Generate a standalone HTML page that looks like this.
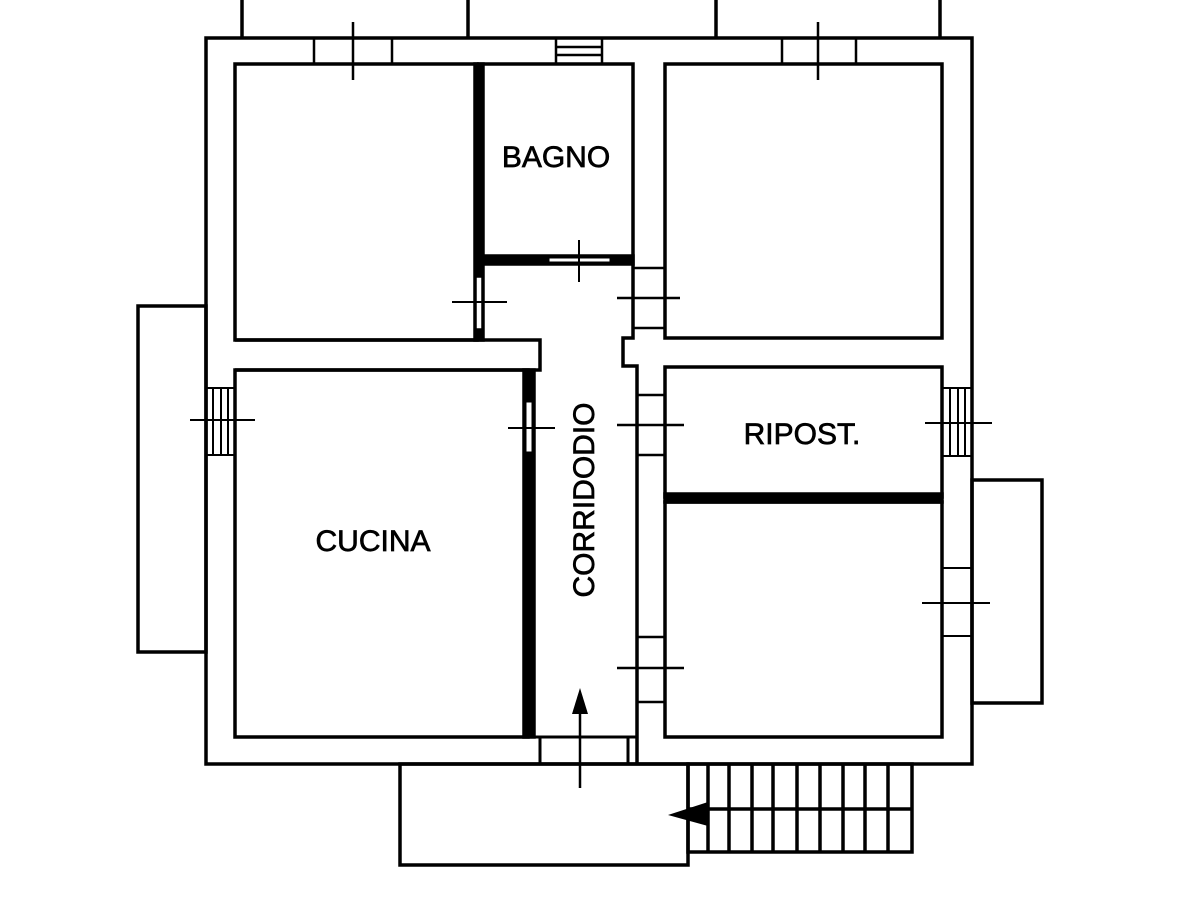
<!DOCTYPE html>
<html><head><style>body{margin:0;background:#fff}svg{display:block}text{font-family:"Liberation Sans",sans-serif;fill:#000}</style></head><body>
<svg width="1200" height="900" viewBox="0 0 1200 900" fill="none" stroke="#000" stroke-width="3.5">
<path d="M242 0V38M468 0V38M716 0V38M940 0V38"/>
<rect x="206" y="38" width="766" height="726"/>
<rect x="235" y="64" width="242" height="276"/>
<path d="M477 64H633V262"/>
<rect x="475" y="64" width="8" height="276" fill="#000"/>
<rect x="480" y="256" width="153" height="8" fill="#000"/>
<rect x="549" y="258" width="61" height="4" fill="#fff" stroke-width="1"/>
<rect x="476" y="277" width="6" height="52" fill="#fff" stroke-width="1.5"/>
<path d="M452 302H507M579 240V282" stroke-width="2"/>
<rect x="665" y="64" width="277" height="274"/>
<path d="M633 262V338H623V366H637V764"/>
<path d="M633 268H665M633 328H665M617 298H680" stroke-width="2.5"/>
<rect x="665" y="367" width="277" height="130"/>
<rect x="665" y="494" width="277" height="8" fill="#000"/>
<rect x="665" y="502" width="277" height="235"/>
<path d="M637 395H665M637 455H665M617 425H684M637 637H665M637 702H665M617 668H684" stroke-width="2.5"/>
<path d="M942 388H972M942 456H972M950 388V456M958 388V456M965 388V456M925 423H992" stroke-width="2"/>
<path d="M942 568H972M942 636H972M922 603H990" stroke-width="2"/>
<rect x="972" y="480" width="70" height="223"/>
<rect x="138" y="306" width="68" height="346"/>
<path d="M206 388H235M206 455H235M213 388V455M221 388V455M228 388V455M190 420H255" stroke-width="2"/>
<path d="M235 340H540V370H235"/>
<rect x="235" y="370" width="293" height="367"/>
<rect x="524" y="370" width="10" height="367" fill="#000"/>
<rect x="526" y="402" width="6" height="50" fill="#fff" stroke-width="1"/>
<path d="M508 428H555" stroke-width="2"/>
<path d="M534 737H637M540 737V764M628 737V764" stroke-width="3"/>
<path d="M314 38V64M392 38V64M353 22V80M782 38V64M856 38V64M818 22V80" stroke-width="2.5"/>
<rect x="556" y="38" width="46" height="26" stroke-width="2.5"/>
<path d="M556 47H602M556 55H602" stroke-width="2.5"/>
<path d="M580 788V712" stroke-width="2.5"/>
<path d="M572 714L580 688L588 714Z" fill="#000" stroke="none"/>
<rect x="400" y="764" width="288" height="101"/>
<rect x="688" y="764" width="224" height="88"/>
<path d="M688 809H912M708 764V852M729 764V852M752 764V852M773 764V852M797 764V852M820 764V852M843 764V852M865 764V852M888 764V852"/>
<path d="M668 815L708 802V826Z" fill="#000" stroke="none"/>
<g stroke="#000" stroke-width="0.7" fill="#000" font-size="30">
<text x="556" y="167" text-anchor="middle">BAGNO</text>
<text x="373" y="551" text-anchor="middle">CUCINA</text>
<text x="802" y="444" text-anchor="middle">RIPOST.</text>
<text x="594" y="500" text-anchor="middle" transform="rotate(-90 594 500)">CORRIDODIO</text>
</g>
</svg>
</body></html>
